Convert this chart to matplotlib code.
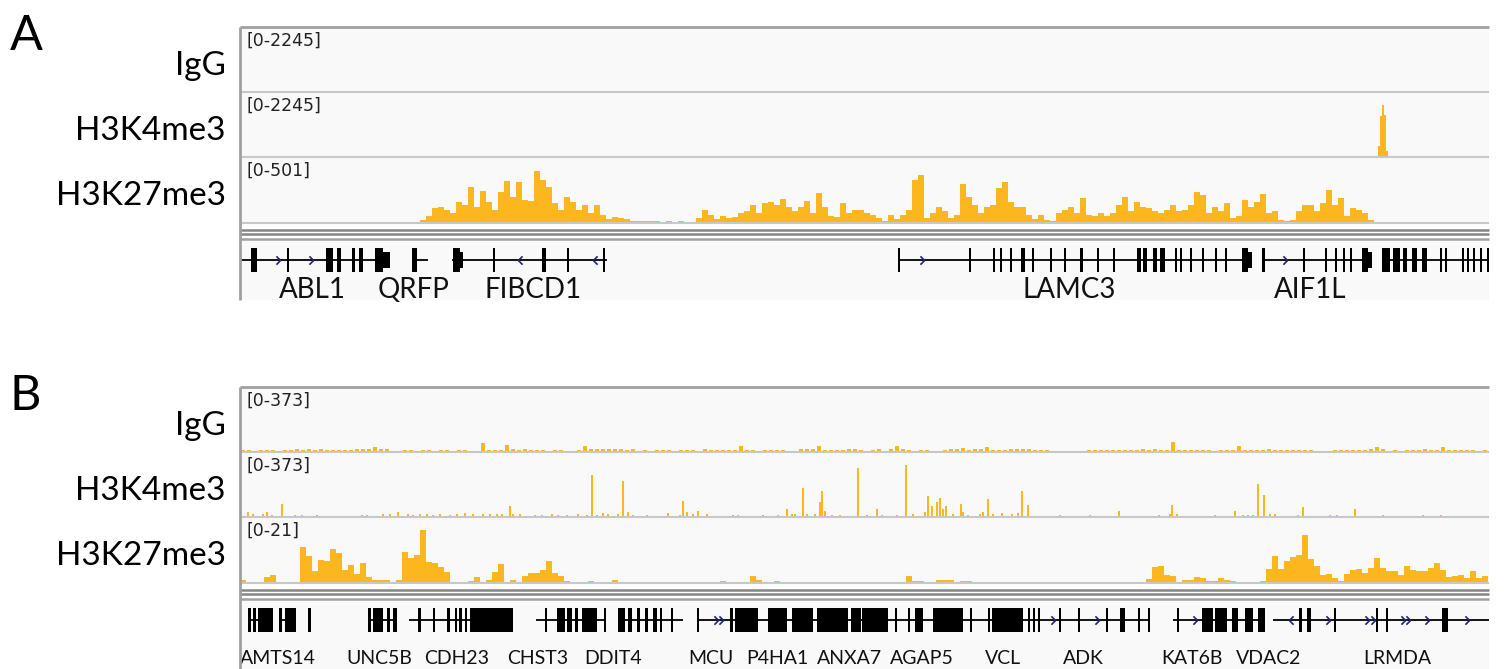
import numpy as np
import matplotlib.pyplot as plt
from matplotlib.lines import Line2D
from matplotlib.path import Path

# region is 1249 units wide, signal binned at 6 units
REGION = 1249
BIN = 6

track_names = ["IgG", "H3K4me3", "H3K27me3"]

# ---------------- panel A ----------------
a_ranges = [2245, 2245, 501]
a_igg_pos = [26, 1050, 1142]
a_igg_val = [45, 40, 40]
a_k4_pos = [1139, 1141, 1143, 1145, 1147]
a_k4_val = [370, 1405, 1806, 1450, 197]
a_k27 = ([0] * 23 + [8] + [0] * 6 +
         [25, 50, 112, 125, 100, 75, 158, 138, 275, 125,
          245, 162, 100, 238, 320, 200, 312, 175, 170, 395,
          325, 275, 150, 100, 200, 162, 100, 138, 75, 138,
          62, 30, 45, 38, 30, 18, 18, 18, 12, 12,
          0, 12, 0, 12, 0, 0, 38, 100, 62, 30,
          50, 38, 45, 75, 88, 138, 75, 150, 162, 138,
          180, 125, 88, 125, 170, 75, 225, 125, 50, 45,
          150, 75, 100, 100, 75, 62, 38, 12, 62, 30,
          62, 100, 325, 362, 38, 75, 125, 88, 38, 62,
          295, 200, 138, 75, 125, 138, 262, 312, 162, 125,
          125, 62, 30, 62, 20, 12, 75, 100, 125, 75,
          188, 62, 50, 75, 50, 75, 138, 200, 88, 162,
          125, 112, 88, 75, 100, 138, 88, 100, 138, 238,
          212, 75, 125, 88, 150, 38, 50, 175, 125, 162,
          220, 75, 88, 25, 12, 25, 88, 138, 138, 88,
          150, 250, 138, 188, 50, 112, 100, 75, 25, 0] +
         [0] * 8 + [10, 0, 0, 0, 10] + [0] * 5)

a_lines = [(0, 150), (172, 188), (212, 367), (658, 1012), (1022, 1132), (1142, 1249)]
a_exons = [(11, 6), (47, 2), (86, 7), (97, 4), (112, 3), (119, 4), (135, 8), (172, 5),
           (213, 7), (253, 2), (302, 4), (327, 2), (363, 2),
           (658, 2), (729, 2), (753, 2), (760, 2), (770, 2), (781, 4), (792, 2), (810, 2),
           (824, 2), (840, 3), (857, 2), (873, 2), (897, 4), (903, 4), (913, 4), (920, 5),
           (935, 2), (940, 2), (950, 2), (962, 2), (975, 2), (985, 2), (1002, 6),
           (1022, 3), (1063, 2), (1085, 2), (1095, 2), (1103, 2), (1110, 2), (1122, 6),
           (1142, 8), (1153, 7), (1163, 4), (1172, 5), (1182, 5), (1200, 2), (1205, 2),
           (1222, 2), (1227, 2), (1233, 2), (1240, 2), (1247, 2)]
a_utrs = [(143, 7), (220, 3), (1008, 4), (1128, 4)]
a_fwd = [38, 71, 682, 1045]
a_rev = [280, 355]
a_genes = ["ABL1", "QRFP", "FIBCD1", "LAMC3", "AIF1L"]
a_gene_x = [72, 174, 293, 829, 1070]

# ---------------- panel B ----------------
b_ranges = [373, 373, 21]
b_igg = [12, 10, 0, 12, 10, 12, 0, 10, 12, 15,
         12, 15, 12, 15, 12, 10, 12, 10, 12, 18,
         20, 18, 28, 15, 20, 0, 0, 10, 10, 0,
         12, 10, 0, 12, 10, 0, 10, 12, 0, 0,
         53, 10, 12, 10, 40, 15, 12, 15, 12, 10,
         10, 0, 10, 12, 0, 0, 12, 32, 18, 15,
         18, 15, 15, 18, 12, 15, 0, 10, 0, 10,
         12, 10, 0, 10, 12, 10, 0, 15, 12, 10,
         12, 10, 12, 32, 12, 10, 0, 10, 12, 10,
         12, 0, 0, 15, 18, 15, 32, 10, 12, 12,
         10, 15, 15, 12, 0, 12, 15, 0, 15, 32,
         15, 10, 0, 10, 10, 0, 0, 12, 15, 18,
         25, 12, 15, 15, 28, 12, 12, 12, 15, 15,
         20, 20, 12, 12, 10, 0, 0, 0, 0, 0,
         0, 10, 10, 12, 10, 12, 10, 10, 12, 12,
         18, 12, 15, 12, 10, 57, 12, 10, 12, 10,
         12, 10, 0, 12, 10, 12, 32, 10, 12, 10,
         12, 15, 10, 12, 12, 10, 12, 10, 10, 0,
         0, 0, 12, 10, 10, 12, 10, 12, 15, 30,
         15, 0, 10, 0, 10, 12, 10, 20, 12, 12,
         30, 12, 10, 12, 10, 12, 0, 12]
b_k4_pos = [8, 13, 23, 27, 32, 42, 55, 62, 77, 122, 127, 143, 150, 158, 168, 173, 180, 187,
            193, 200, 210, 217, 225, 233, 243, 250, 257,
            262, 270, 273, 280, 295, 302, 312, 318, 327, 338, 347, 352, 357, 363, 368, 378,
            383, 388, 393, 407, 428, 440, 443, 447, 453, 458, 467, 493, 498, 523, 538, 547,
            552, 555, 563, 567, 575, 580, 582, 585, 592, 600, 618, 627, 637, 642, 657, 666,
            673, 685, 688, 692, 697, 700, 703, 706, 713, 721, 723, 728, 740, 743, 748, 753,
            762, 772, 778, 782, 788, 820, 850, 879, 919, 930, 932, 937, 975, 995, 1003, 1008,
            1013, 1018, 1024, 1030, 1035, 1058, 1063, 1090, 1097, 1115, 1143, 1183, 1201]
b_k4_val = [29, 15, 19, 29, 12, 77, 12, 12, 12, 12, 12, 15, 15, 29, 15, 12, 15, 15,
            12, 15, 12, 15, 23, 15, 15, 19, 15,
            15, 63, 19, 15, 12, 12, 15, 12, 12, 15, 12, 243, 12, 25, 15, 15,
            207, 29, 12, 12, 25, 12, 92, 29, 15, 34, 15, 12, 12, 12, 12, 44,
            19, 15, 168, 15, 15, 86, 147, 34, 12, 12, 281, 12, 44, 12, 12, 300,
            19, 29, 120, 63, 86, 111, 48, 63, 15, 73, 29, 12, 19, 29, 101, 15,
            23, 15, 23, 149, 67, 12, 12, 34, 12, 15, 67, 15, 12, 34, 12, 12,
            12, 187, 124, 15, 15, 12, 57, 12, 12, 48, 12, 12, 12]
b_k27 = ([0.8, 0, 0, 0, 1.8, 2.7, 0, 0, 0, 0,
          11.3, 8.5, 3.8, 7.4, 7.0, 10.8, 9.4, 4.0, 5.6, 3.0,
          6.4, 1.8, 0.9, 1.0, 1.0, 0.3, 1.0, 9.9, 8.1, 8.8,
          16.9, 6.7, 6.5, 5.1, 3.4, 0, 0, 0, 0.5, 1.8,
          0, 1.0, 3.4, 6.0, 0, 0.8, 0, 2.1, 3.1, 3.2,
          4.2, 6.9, 3.2, 2.2, 0.5, 0, 0, 0, 0.5, 0,
          0, 0, 1.0, 0, 0, 0, 0, 0, 0, 0] + [0] * 10 +
         [0.5, 0, 0, 0, 0, 2.2, 0.8, 0, 0, 0.5] + [0] * 20 +
         [0, 2.2, 0.7, 0.5, 0, 0, 1.0, 1.0, 1.0, 0, 0.5, 0.5] + [0] * 29 +
         [1.3, 5.1, 5.3, 2.7, 2.2, 0, 1.0, 1.1, 1.9,
          1.6, 0.5, 0.5, 1.5, 1.0, 0.5, 0, 0, 0, 0,
          0.5, 4.3, 8.6, 4.3, 7.0, 8.3, 8.8, 15.3, 7.5, 5.4,
          2.4, 2.9, 1.6, 0.5, 3.0, 4.1, 4.3, 3.2, 4.8, 8.1,
          4.8, 3.8, 3.8, 2.7, 5.4, 4.1, 3.8, 3.8, 4.8, 6.5,
          4.2, 1.8, 2.2, 2.7, 1.6, 3.8, 1.6, 2.2])

b_lines = [(8, 33), (39, 56), (128, 157), (169, 273), (296, 366), (378, 443),
           (457, 908), (933, 1025), (1033, 1249)]
b_exons = [(8, 3), (13, 3), (18, 15), (39, 3), (45, 11), (68, 3),
           (128, 3), (133, 10), (147, 3), (153, 4),
           (178, 3), (193, 2), (207, 3), (215, 2), (219, 3), (225, 2), (230, 43),
           (305, 2), (317, 8), (327, 5), (335, 3), (342, 15), (364, 2),
           (378, 7), (388, 4), (397, 3), (405, 3), (413, 4), (420, 2), (431, 2),
           (457, 2), (490, 3), (495, 23), (528, 19), (552, 21), (577, 31), (611, 10),
           (622, 26), (655, 2), (668, 2), (675, 8), (693, 30), (730, 2),
           (748, 2), (752, 31), (788, 2), (793, 2), (798, 2),
           (819, 2), (838, 2), (866, 2), (880, 5), (898, 2), (908, 2),
           (937, 2), (962, 11), (975, 12), (992, 6), (1005, 8), (1018, 7),
           (1059, 3), (1067, 4), (1094, 2), (1136, 2), (1146, 2), (1202, 6)]
b_utrs = []
b_fwd = [476, 481, 813, 857, 955, 1088, 1127, 1133, 1163, 1168, 1187, 1227]
b_rev = [1051]
b_genes = ["AMTS14", "UNC5B", "CDH23", "CHST3", "DDIT4", "MCU", "P4HA1", "ANXA7",
           "AGAP5", "VCL", "ADK", "KAT6B", "VDAC2", "LRMDA"]
b_gene_x = [38, 139, 217, 298, 373, 471, 537, 610, 682, 763, 843, 952, 1029, 1157]

# ---------------- drawing ----------------
W, H = 1504, 669
LEFT, RIGHT = 240, 1489
FILL = '#FDB71E'
BG = '#F9F9F9'
SEP = '#C8C8C8'
FRAME = '#A0A0A0'
DARK = '#858585'
NAVY = '#20207A'
FONT = 'Lato'

fig = plt.figure(figsize=(W / 100, H / 100), dpi=100)


def fx(x):
    return x / W


def fy(y):
    return 1 - y / H


def hline(x0, x1, y, color, lw):
    fig.add_artist(Line2D([fx(x0), fx(x1)], [fy(y), fy(y)], color=color, lw=lw,
                          transform=fig.transFigure, solid_capstyle='butt'))


def vline(x, y0, y1, color, lw):
    fig.add_artist(Line2D([fx(x), fx(x)], [fy(y0), fy(y1)], color=color, lw=lw,
                          transform=fig.transFigure, solid_capstyle='butt'))


def binned(values):
    return np.arange(len(values)) * BIN, np.array(values), BIN


def sparse(pos, val, w=2.5):
    return np.array(pos) - w / 2, np.array(val), w


chev_r = Path([(-0.5, 1.0), (0.5, 0.0), (-0.5, -1.0)], [Path.MOVETO, Path.LINETO, Path.LINETO])
chev_l = Path([(0.5, 1.0), (-0.5, 0.0), (0.5, -1.0)], [Path.MOVETO, Path.LINETO, Path.LINETO])


def draw_panel(top, letter, ranges, tracks, lines, exons, utrs, fwd, rev,
               genes, gene_x, gene_bottom, label_base, gene_fs):
    tops = [top, top + 65, top + 130]
    bottoms = [top + 65, top + 130, top + 196]
    fig.text(fx(10), fy(top + 23), letter, fontsize=35, family=FONT, va='baseline')

    for i in range(3):
        ax = fig.add_axes([fx(LEFT), fy(bottoms[i]), fx(RIGHT) - fx(LEFT),
                           (bottoms[i] - tops[i]) / H])
        ax.set_facecolor(BG)
        x, h, w = tracks[i]
        ax.bar(x, h, width=w, align='edge', color=FILL, lw=0)
        ax.set_xlim(0, REGION)
        ax.set_ylim(0, ranges[i])
        ax.set_xticks([])
        ax.set_yticks([])
        for s in ax.spines.values():
            s.set_visible(False)
        fig.text(fx(226), fy(tops[i] + 48), track_names[i], ha='right', va='baseline',
                 fontsize=24, family=FONT)
        fig.text(fx(247), fy(tops[i] + 19), f"[0-{ranges[i]}]", va='baseline',
                 fontsize=12.5, family='DejaVu Sans', color='#222222')
        hline(LEFT, RIGHT, bottoms[i], SEP, 1.5)

    hline(LEFT, RIGHT, top, FRAME, 2)
    hline(LEFT, RIGHT, top + 203, DARK, 1.8)
    hline(LEFT, RIGHT, top + 206.5, DARK, 1.8)

    # gene track, y in pixel units (downwards)
    gtop = top + 212
    gy = top + 233
    gax = fig.add_axes([fx(LEFT), fy(gene_bottom), fx(RIGHT) - fx(LEFT),
                        (gene_bottom - gtop) / H])
    gax.set_facecolor(BG)
    gax.set_xlim(0, REGION)
    gax.set_ylim(gene_bottom, gtop)
    gax.set_xticks([])
    gax.set_yticks([])
    for s in gax.spines.values():
        s.set_visible(False)
    for a, b in lines:
        gax.plot([a, b], [gy, gy], color='black', lw=1.3, solid_capstyle='butt')
    gax.broken_barh(exons, (gy - 12, 24), color='black', lw=0)
    if utrs:
        gax.broken_barh(utrs, (gy - 8, 16), color='black', lw=0)
    gax.plot(fwd, [gy] * len(fwd), ls='none', marker=chev_r, ms=6, mfc='none',
             mec=NAVY, mew=1.2)
    gax.plot(rev, [gy] * len(rev), ls='none', marker=chev_l, ms=6, mfc='none',
             mec=NAVY, mew=1.2)
    for name, x in zip(genes, gene_x):
        gax.text(x, label_base, name, ha='center', va='baseline', fontsize=gene_fs,
                 family=FONT, color='#111111')
    hline(LEFT, RIGHT, gtop, FRAME, 1.8)
    vline(LEFT, top, gene_bottom, FRAME, 2)


draw_panel(27, "A", a_ranges,
           [sparse(a_igg_pos, a_igg_val), sparse(a_k4_pos, a_k4_val, 2), binned(a_k27)],
           a_lines, a_exons, a_utrs, a_fwd, a_rev, a_genes, a_gene_x, 300, 298, 20)
draw_panel(387, "B", b_ranges,
           [(np.arange(len(b_igg)) * BIN + 1, np.array(b_igg), 4),
            sparse(b_k4_pos, b_k4_val), binned(b_k27)],
           b_lines, b_exons, b_utrs, b_fwd, b_rev, b_genes, b_gene_x, 669, 664, 14)

fig.savefig('out.png', dpi=100)
